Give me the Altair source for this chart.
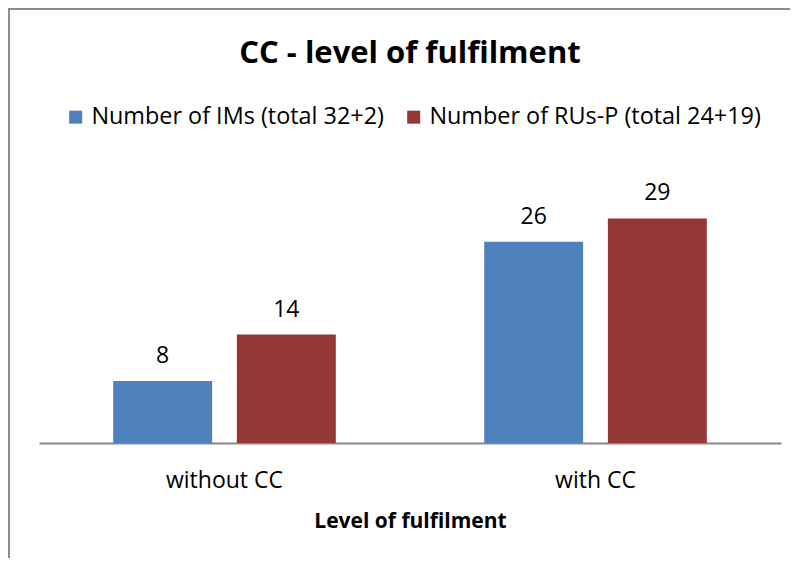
import altair as alt
import pandas as pd

categories = ["without CC", "with CC"]
series = ["Number of IMs (total 32+2)", "Number of RUs-P (total 24+19)"]
ims_values = [8, 26]
rus_values = [14, 29]

rows = []
for i, c in enumerate(categories):
    rows.append({"level": c, "series": series[0], "value": ims_values[i]})
    rows.append({"level": c, "series": series[1], "value": rus_values[i]})
df = pd.DataFrame(rows)

FONT = "Open Sans"
colors = ["#4F81BD", "#953735"]

x = alt.X("level:N", sort=categories, title="Level of fulfilment",
          scale=alt.Scale(paddingInner=0, paddingOuter=0),
          axis=alt.Axis(labelAngle=0, ticks=False, domainColor="#888888", domainWidth=2,
                        labelFontSize=23, labelFont=FONT, labelColor="#000000", labelPadding=26,
                        titleFontSize=21, titleFont=FONT, titleFontWeight="bold", titleColor="#000000",
                        titlePadding=18))
xo = alt.XOffset("series:N", sort=series, scale=alt.Scale(paddingInner=0.2, paddingOuter=0.6))
y = alt.Y("value:Q", scale=alt.Scale(domain=[0, 35]), axis=None)

bars = alt.Chart(df).mark_bar().encode(
    x=x, xOffset=xo, y=y,
    color=alt.Color("series:N", sort=series, scale=alt.Scale(domain=series, range=colors),
                    legend=alt.Legend(orient="none", legendX=25, legendY=-67, direction="horizontal",
                                      title=None, symbolType="square", symbolSize=169,
                                      symbolStrokeWidth=0, labelFont=FONT, labelFontSize=23.4,
                                      labelColor="#000000", labelOffset=4, columnPadding=18,
                                      labelLimit=400)),
)

labels = alt.Chart(df).mark_text(dy=-18, fontSize=23, font=FONT, color="#000000", baseline="alphabetic").encode(
    x=x, xOffset=xo, y=y, text="value:Q"
)

border = alt.Chart(pd.DataFrame({"a": [0]})).mark_rect(
    fill="transparent", stroke="#8c8c8c", strokeWidth=2
).encode(x=alt.value(-30), x2=alt.value(800), y=alt.value(-163), y2=alt.value(600))

chart = alt.layer(border, bars, labels).properties(
    width=742, height=271,
    autosize=alt.AutoSizeParams(type="none"),
    padding={"left": 31, "top": 164, "right": 9, "bottom": 115},
    title=alt.Title("CC - level of fulfilment", font=FONT, fontSize=31, fontWeight="bold",
                    color="#000000", anchor="middle", offset=0, baseline="alphabetic", dy=86),
).configure_view(stroke=None)

chart.save("out.html", embed_options={"renderer": "svg", "actions": False})
